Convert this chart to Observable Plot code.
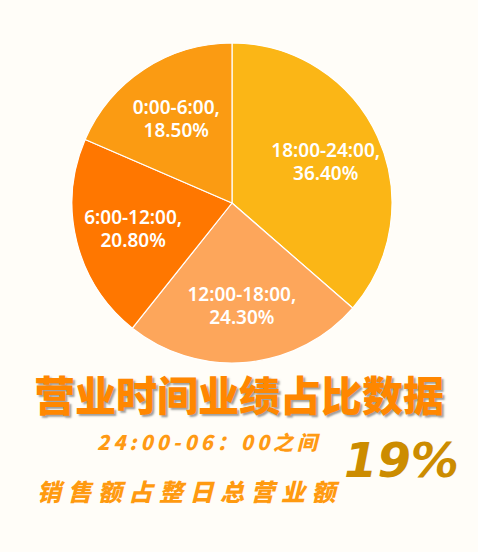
<!DOCTYPE html>
<html><head><meta charset="utf-8">
<script src="https://cdn.jsdelivr.net/npm/d3@7"></script>
<script src="https://cdn.jsdelivr.net/npm/@observablehq/plot@0.6"></script>
<style>
html,body{margin:0;padding:0;background:#FFFDF8;width:478px;height:552px;overflow:hidden;}
#wrap{position:relative;width:478px;height:552px;}
#chart{position:absolute;left:0;top:0;}
.t{position:absolute;white-space:nowrap;line-height:1;font-family:"Noto Sans CJK SC","Noto Sans",sans-serif;}
#title{left:0;width:478px;text-align:center;top:373px;font-size:41px;font-weight:900;color:#FF8700;text-shadow:2px 2px 2px rgba(80,80,80,0.55);}
#sub1{left:97px;top:432px;font-size:20px;font-weight:900;font-style:italic;color:#FF9A14;letter-spacing:4px;}
#sub2{left:37px;top:479px;font-size:24px;font-weight:900;font-style:italic;color:#FF9A10;letter-spacing:6.5px;}
#big{left:344px;top:436px;font-size:48px;font-weight:bold;font-style:italic;color:#CC8C00;letter-spacing:0px;font-family:"DejaVu Sans",sans-serif;}
</style></head>
<body><div id="wrap"><div id="chart"></div>
<div class="t" id="title"></div>
<div class="t" id="sub1"></div>
<div class="t" id="sub2"></div>
<div class="t" id="big"></div>
</div>
<script>
// ---- data ----
const periods = ["18:00-24:00", "12:00-18:00", "6:00-12:00", "0:00-6:00"];
const shares = [36.4, 24.3, 20.8, 18.5];
const sliceColors = ["#FBB616", "#FDA65B", "#FF7700", "#FB9B12"];
const titleText = "营业时间业绩占比数据";
const subLine1 = "24:00-06：00之间";
const subLine2 = "销售额占整日总营业额";
const highlight = "19%";

document.getElementById("title").textContent = titleText;
document.getElementById("sub1").textContent = subLine1;
document.getElementById("sub2").textContent = subLine2;
document.getElementById("big").textContent = highlight;

const rows = periods.map((p, i) => ({period: p, share: shares[i]}));
const arcs = d3.pie().sort(null).value(d => d.share)(rows);
const labelR = 0.64;
const labelRows = arcs.map(a => {
  const mid = (a.startAngle + a.endAngle) / 2;
  return {period: a.data.period, share: a.data.share, lx: labelR * Math.sin(mid), ly: labelR * Math.cos(mid)};
});

const colorScale = Plot.scale({color: {type: "ordinal", domain: periods, range: sliceColors}});

function pieSlices(index, scales) {
  const cx = scales.x(0), cy = scales.y(0);
  const r = scales.x(1) - scales.x(0);
  const g = d3.create("svg:g").attr("transform", `translate(${cx},${cy})`);
  const arc = d3.arc().innerRadius(0).outerRadius(r);
  g.selectAll("path").data(arcs).join("path")
    .attr("d", arc)
    .attr("fill", d => colorScale.apply(d.data.period))
    .attr("stroke", "#ffffff")
    .attr("stroke-width", 1.2)
    .attr("stroke-linejoin", "round");
  return g.node();
}

const W = 478, H = 370, R = 160, CX = 232, CY = 203;
const chart = Plot.plot({
  width: W, height: H,
  margin: 0,
  style: {background: "transparent", overflow: "visible"},
  x: {domain: [-CX / R, (W - CX) / R], axis: null},
  y: {domain: [-(H - CY) / R, CY / R], axis: null},
  marks: [
    pieSlices,
    Plot.text(labelRows, {
      x: "lx", y: "ly",
      text: d => `${d.period},\n${d.share.toFixed(2)}%`,
      fill: "#ffffff",
      fontSize: 19,
      fontWeight: 600,
      lineHeight: 1.22,
      fontFamily: "'Noto Sans', sans-serif"
    })
  ]
});
document.getElementById("chart").appendChild(chart);
</script>
</body></html>
